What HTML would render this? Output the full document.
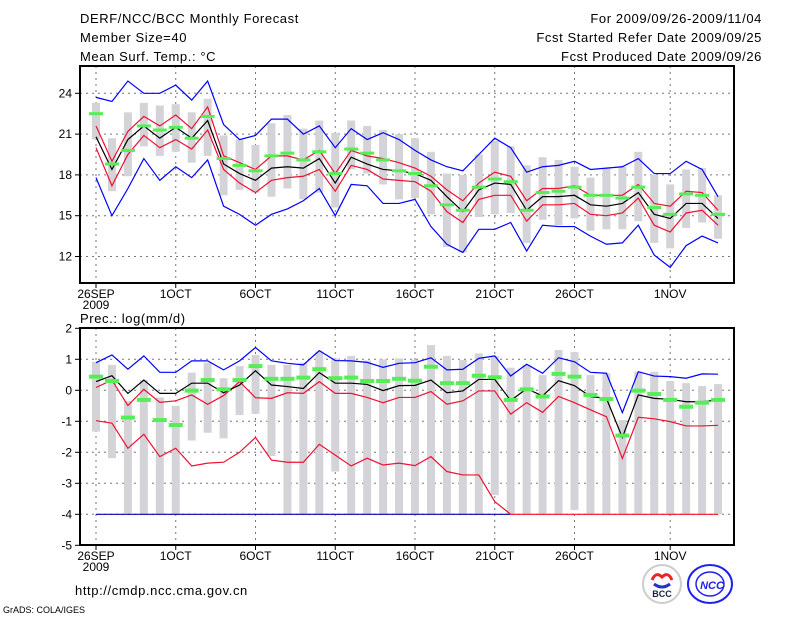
<!DOCTYPE html>
<html><head><meta charset="utf-8"><style>
body{margin:0;background:#fff;}
svg{display:block;font-family:"Liberation Sans",sans-serif;}
</style></head><body>
<svg id="chart" width="800" height="618" viewBox="0 0 800 618" xmlns="http://www.w3.org/2000/svg">
<rect width="800" height="618" fill="#fff"/>
<g font-size="13" fill="#000">
<text x="80" y="23" letter-spacing="0.6">DERF/NCC/BCC Monthly Forecast</text>
<text x="80" y="42" letter-spacing="0.6">Member Size=40</text>
<text x="80" y="61" letter-spacing="0.6">Mean Surf. Temp.: °C</text>
<text x="762" y="23" text-anchor="end" letter-spacing="0.6">For 2009/09/26-2009/11/04</text>
<text x="762" y="42" text-anchor="end" letter-spacing="0.6">Fcst Started Refer Date 2009/09/25</text>
<text x="762" y="61" text-anchor="end" letter-spacing="0.6">Fcst Produced Date 2009/09/26</text>
<text x="80" y="323" letter-spacing="0.6">Prec.: log(mm/d)</text>
<text x="75" y="595" letter-spacing="0.6">http://cmdp.ncc.cma.gov.cn</text>
<text x="3" y="613" font-size="9">GrADS: COLA/IGES</text>
</g>
<g>
<circle cx="662" cy="584" r="19" fill="#fff" stroke="#ccc" stroke-width="2"/>
<path d="M652 580 q4 -9 10 -3 q6 -6 10 3" fill="none" stroke="#e22" stroke-width="3"/>
<path d="M654 584 q8 6 16 0" fill="none" stroke="#23c" stroke-width="3"/>
<text x="662" y="597" font-size="9" font-weight="bold" text-anchor="middle" fill="#124">BCC</text>
</g>
<g>
<ellipse cx="710" cy="584" rx="22" ry="19" fill="#fff" stroke="#22e" stroke-width="2"/>
<ellipse cx="710" cy="584" rx="14" ry="12" fill="none" stroke="#22e" stroke-width="1.5"/>
<text x="712" y="589" font-size="11" font-weight="bold" font-style="italic" text-anchor="middle" fill="#22e">NCC</text>
</g>
<g id="top"></g>
<g id="bot"></g>
</svg>
<script>
// ---- data: temperature panel ----
const days = Array.from({length:40},(_,i)=>i);
const tBlueHi=[23.7,23.4,24.9,24,24,24.6,23.5,24.9,21.7,20.6,20.9,22.1,22.1,21,21.6,20,21.4,20.6,21.1,20.6,19.8,19.1,18.6,18.3,19.5,20.7,20.0,18.2,18.6,18.7,19.0,18.4,18.5,18.6,19.2,18.1,18.1,19.0,18.4,16.4];
const tBlueLo=[17.8,15,17,19.2,17.6,18.6,17.8,19.1,15.7,15.1,14.3,15.1,15.5,16.1,17,15,17.3,17.2,15.9,15.9,16.2,14.2,12.9,12.3,14,14,14.5,12.4,14.3,14.2,14.2,13.5,12.9,13,14.3,12.1,11.2,12.8,13.5,13.0];
const tRedHi=[21.6,19,21.2,22.3,21.6,22.4,21.4,23,19.4,18.9,18.4,19.4,19.4,19.1,19.8,18.1,19.8,19.4,19.2,18.9,18.5,17.9,16.9,16.1,17.4,18.2,17.9,16.1,17.0,17.0,17.2,16.5,16.5,16.5,17.3,15.9,15.7,16.8,16.7,15.4];
const tMean=[20.8,18.4,20.6,21.6,20.7,21.5,20.7,22,18.8,18.1,17.6,18.5,18.6,18.5,19.2,17.4,19.3,18.8,18.4,18.3,18.1,17.6,16.4,15.3,16.9,17.4,17.3,15.4,16.4,16.4,16.5,15.8,15.7,15.9,16.7,15.1,14.8,15.9,15.9,14.8];
const tRedLo=[20,17.2,19.5,20.9,20,20.6,19.9,21.3,18.4,17.4,16.7,17.6,17.8,17.9,18.4,16.8,18.7,18.4,17.7,17.6,17.5,16.8,15.3,14.5,16.2,16.5,16.5,14.6,15.8,15.8,15.9,15.1,15,15.2,16.3,14.3,13.8,15.2,15.4,14.3];
const tObs=[22.5,18.8,19.8,21.6,21.3,21.5,20.7,22.3,19.2,18.7,18.3,19.4,19.6,19.1,19.7,18.1,19.9,19.6,19.1,18.3,18.1,17.2,15.8,15.4,17.1,17.7,17.5,15.4,16.7,16.8,17.1,16.5,16.5,16.3,17.1,15.6,15.1,16.6,16.5,15.1];
const tBarHi=[23.3,20.7,22.6,23.3,23.1,23.2,22.6,23.6,20.9,20.6,20.2,21.8,22.4,21.4,22,21.1,22,21.6,21.3,21,20.7,19.7,18.1,18,19.5,20.5,20.1,18.7,19.3,19.1,18.6,17.8,18.5,18.6,19.7,18,17.3,18.4,18.5,16.5];
const tBarLo=[20.6,16.8,17.9,20.1,19.4,19.7,18.9,19.4,16.5,16.9,16.7,16.4,17,16.2,16.7,15.6,18.4,18.1,17.3,16.2,16.3,15.1,12.7,12.3,14.9,15.1,15.2,13,14.7,14.3,14.8,13.9,14,14,14.6,13,12.6,14.1,14.5,13.3];
const tTicks=[12,15,18,21,24];
// ---- data: precipitation panel ----
const pBlueHi=[0.89,1.14,0.68,1.11,0.58,0.58,0.95,0.95,0.66,0.95,1.38,0.95,0.87,0.82,1.28,0.96,0.95,0.9,0.74,0.87,0.89,1.05,0.66,0.68,1.03,1.11,0.46,0.84,0.55,1.05,0.92,0.58,0.55,-0.72,0.6,0.46,0.44,0.39,0.53,0.52];
const pMean=[0.28,0.47,-0.1,0.33,-0.1,-0.1,0.23,0.23,-0.08,0.17,0.63,0.17,0.12,0.06,0.57,0.23,0.23,0.19,-0.01,0.15,0.16,0.33,-0.08,-0.02,0.35,0.35,-0.33,0.05,-0.18,0.31,0.15,-0.2,-0.26,-1.52,-0.15,-0.26,-0.29,-0.37,-0.37,-0.31];
const pRedHi=[0.09,0.33,-0.49,0.03,-0.39,-0.34,-0.15,-0.45,-0.17,0.28,-0.24,-0.26,-0.08,-0.1,0.28,-0.1,-0.1,-0.23,-0.4,-0.23,-0.23,-0.04,-0.45,-0.34,-0.02,-0.02,-0.77,-0.4,-0.71,-0.2,-0.4,-0.63,-0.85,-2.2,-0.87,-0.92,-1.01,-1.15,-1.15,-1.13];
const pRedLo=[-0.98,-1.06,-1.87,-1.42,-2.14,-1.87,-2.44,-2.35,-2.32,-2.0,-1.52,-2.25,-2.32,-2.32,-1.74,-2.09,-2.44,-2.19,-2.41,-2.35,-2.43,-2.14,-2.62,-2.73,-2.73,-3.59,-4,-4,-4,-4,-4,-4,-4,-4,-4,-4,-4,-4,-4,-4];
const pObs=[0.44,0.3,-0.88,-0.31,-0.96,-1.12,-0.01,0.33,0.03,0.33,0.78,0.37,0.37,0.41,0.68,0.39,0.41,0.3,0.3,0.37,0.31,0.76,0.23,0.23,0.47,0.42,-0.31,0.03,-0.2,0.53,0.44,-0.15,-0.28,-1.46,-0.01,-0.12,-0.31,-0.53,-0.4,-0.31];
const pBarHi=[0.92,0.82,-0.34,0.33,-0.23,-0.5,0.57,0.89,0.39,0.78,1.14,0.82,0.82,0.89,1.25,1.03,1.11,0.96,1.0,1.03,0.98,1.46,1.11,0.98,1.19,1.11,0.73,0.82,0.49,1.3,1.23,0.49,0.55,-0.96,0.6,0.6,0.3,0.23,0.14,0.2];
const pBarLo=[-1.33,-2.19,-3.97,-4,-4,-4,-1.62,-1.37,-1.55,-0.8,-0.76,-2.12,-4,-4,-4,-2.62,-4,-4,-4,-4,-4,-4,-4,-4,-4,-3.38,-4,-4,-4,-4,-3.86,-4,-4,-4,-4,-4,-4,-4,-4,-4];
const pTicks=[-5,-4,-3,-2,-1,0,1,2];
const dateTicks=[0,5,10,15,20,25,30,36];
const dateLabels=["26SEP","1OCT","6OCT","11OCT","16OCT","21OCT","26OCT","1NOV"];

const NS="http://www.w3.org/2000/svg";
const X0=80,X1=734;
const xd=d=>96+d*15.95;
const yT=v=>93.3+(24-v)*13.6;
const yP=v=>390.3-v*31;
function mk(parent,tag,attrs){const e=document.createElementNS(NS,tag);for(const k in attrs)e.setAttribute(k,attrs[k]);parent.appendChild(e);return e;}

function panel(gid,top,bot,yf,ticks,series,bars,obs,obsH,extra){
  const g=document.getElementById(gid);
  // gridlines
  ticks.forEach(t=>{const y=yf(t);
    if(y>top+1&&y<bot-1){const l=mk(g,'line',{x1:X0,x2:X1,y1:y,y2:y,stroke:'#777','stroke-dasharray':'2,4','stroke-width':1});
    
    }
    const tk=mk(g,'line',{x1:X0-5,x2:X0,y1:y,y2:y,stroke:'#000'});
    
    
    const tx=mk(g,'text',{x:X0-8,y:y+4,'font-size':12,'text-anchor':'end'});tx.textContent=String(t);
    
    
  });
  dateTicks.forEach((d,i)=>{const x=xd(d);
    const l=mk(g,'line',{x1:x,x2:x,y1:top,y2:bot,stroke:'#777','stroke-dasharray':'2,4'});
    
    
    const tk=mk(g,'line',{x1:x,x2:x,y1:bot,y2:bot+5,stroke:'#000'});
    
    
    const tx=mk(g,'text',{x:x,y:bot+15,'font-size':12,'text-anchor':'middle'});tx.textContent=dateLabels[i];
    
    
  });
  const yr=mk(g,'text',{x:96,y:bot+26,'font-size':12,'text-anchor':'middle'});yr.textContent='2009';
  
  
  // bars
  days.forEach(d=>{const y1=yf(bars[0][d]),y2=yf(bars[1][d]);
    const r=mk(g,'rect',{x:xd(d)-4,y:y1,width:8,height:Math.max(1,y2-y1),fill:'#d4d4d8'});
    
    
  });
  if(extra)extra(g);
  series.forEach(s=>{
    const p=mk(g,'polyline',{points:days.map(d=>xd(d)+','+yf(s.v[d])).join(' '),fill:'none',stroke:s.c,'stroke-width':1.2});
    
    
  });
  days.forEach(d=>{
    const r=mk(g,'rect',{x:xd(d)-7,y:yf(obs[d])-obsH/2,width:14,height:obsH,fill:'#55ee55'});
    
    
  });
  const f=mk(g,'rect',{x:X0,y:top,width:X1-X0,height:bot-top,fill:'none',stroke:'#000','stroke-width':2});
  
  
}
panel('top',66,283,yT,tTicks,[
  {v:tBlueHi,c:'#0000ff',n:'temp-upper-bound-line'},
  {v:tBlueLo,c:'#0000ff',n:'temp-lower-bound-line'},
  {v:tRedHi,c:'#ee1133',n:'temp-upper-spread-line'},
  {v:tRedLo,c:'#ee1133',n:'temp-lower-spread-line'},
  {v:tMean,c:'#000',n:'temp-ensemble-mean-line'}],[tBarHi,tBarLo],tObs,3,null);
panel('bot',328,545,yP,pTicks,[
  {v:pBlueHi,c:'#0000ff',n:'prec-upper-bound-line'},
  {v:pRedHi,c:'#ee1133',n:'prec-upper-spread-line'},
  {v:pRedLo,c:'#ee1133',n:'prec-lower-spread-line'},
  {v:pMean,c:'#000',n:'prec-ensemble-mean-line'}],[pBarHi,pBarLo],pObs,4,
  g=>{const l=mk(g,'line',{x1:xd(0),x2:xd(26),y1:yP(-4),y2:yP(-4),stroke:'#0000aa','stroke-width':1.2});
    
    });
</script>
</body></html>
